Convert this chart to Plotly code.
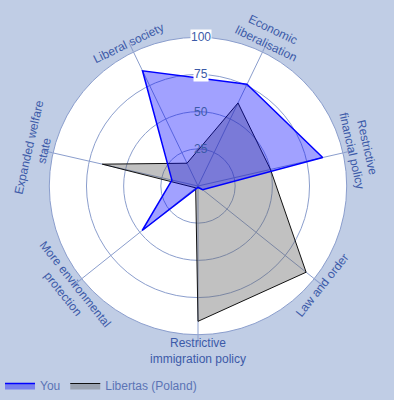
import math
import plotly.graph_objects as go

categories = ["Economic<br>liberalisation", "Restrictive<br>financial policy", "Law and order",
              "Restrictive<br>immigration policy", "More environmental<br>protection",
              "Expanded welfare<br>state", "Liberal society"]
you_values = [76, 86, 4, 1, 48, 18, 86]
libertas_values = [62, 50, 93, 91, 2, 66, 17]
radial_ticks = [25, 50, 75, 100]
series_names = ["You", "Libertas (Poland)"]

W, H = 394, 400
CX, CY, R = 198, 186, 148.7
BG = "#c0cde5"
GRID = "#8b9ecd"
TXT = "#3c5aa8"

n = len(categories)
step = 360.0 / n
rotation = 90 - step / 2  # first axis position (deg, ccw from east)
thetas = [i * step for i in range(n)]

fig = go.Figure()
fig.add_trace(go.Scatterpolar(
    r=libertas_values + libertas_values[:1], theta=thetas + thetas[:1],
    mode="lines", fill="toself", name=series_names[1], legendrank=2,
    line=dict(color="#111111", width=1), fillcolor="rgba(100,100,100,0.4)"))
fig.add_trace(go.Scatterpolar(
    r=you_values + you_values[:1], theta=thetas + thetas[:1],
    mode="lines", fill="toself", name=series_names[0], legendrank=1,
    line=dict(color="#0000ff", width=1.5), fillcolor="rgba(0,0,255,0.37)"))

fig.update_layout(
    width=W, height=H, margin=dict(l=0, r=0, t=0, b=0),
    paper_bgcolor=BG, plot_bgcolor=BG,
    font=dict(family="Liberation Sans, Arial", size=12, color=TXT),
    showlegend=True,
    legend=dict(orientation="h", x=0.0, y=0.0, xanchor="left", yanchor="bottom",
                font=dict(size=12, color="#5b74b5"), bgcolor="rgba(0,0,0,0)"),
    polar=dict(
        domain=dict(x=[(CX - R) / W, (CX + R) / W], y=[1 - (CY + R) / H, 1 - (CY - R) / H]),
        bgcolor="white",
        radialaxis=dict(range=[0, 100], tickvals=radial_ticks, showticklabels=False,
                        showline=False, ticks="", gridcolor=GRID, gridwidth=1),
        angularaxis=dict(rotation=rotation, direction="clockwise", thetaunit="degrees",
                         tickmode="array", tickvals=thetas, showticklabels=False,
                         ticks="outside", ticklen=10, tickcolor=GRID,
                         showline=True, linecolor=GRID, linewidth=1,
                         gridcolor=GRID, gridwidth=1),
    ),
)

annotations = []
# category labels, tangent to the circle
for i, lab in enumerate(categories):
    ang = rotation - thetas[i]
    a = ang % 360
    two = "<br>" in lab
    rr = R + (16.5 if two else 10.5)
    px = CX + rr * math.cos(math.radians(ang))
    py = CY - rr * math.sin(math.radians(ang))
    if 0 <= a <= 180 or a > 350:
        ta = 90 - ang
    else:
        ta = -90 - ang
    ta = ((ta + 180) % 360) - 180
    annotations.append(dict(x=px / W, y=1 - py / H, xref="paper", yref="paper",
                            text=lab, showarrow=False, textangle=ta,
                            xanchor="center", yanchor="middle",
                            font=dict(size=12, color=TXT)))
# radial tick labels along the top
for v in radial_ticks:
    py = CY - R * v / 100.0
    annotations.append(dict(x=(CX + 3) / W, y=1 - py / H, xref="paper", yref="paper",
                            text=str(v), showarrow=False, xanchor="center", yanchor="middle",
                            bgcolor="white" if v >= 75 else "rgba(0,0,0,0)",
                            borderpad=0, font=dict(size=12, color=TXT)))
fig.update_layout(annotations=annotations)

fig.write_html("out.html")
